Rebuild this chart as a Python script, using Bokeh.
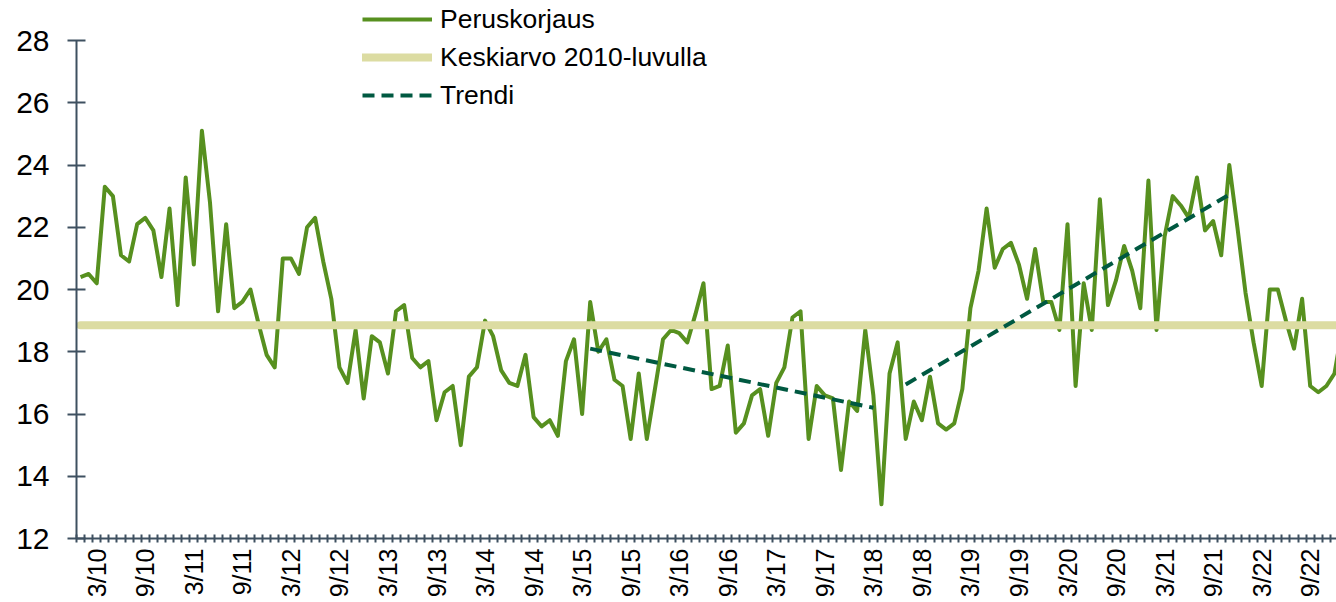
import math
from bokeh.plotting import figure
from bokeh.models import Range1d, FixedTicker, Legend, LegendItem
from bokeh.embed import file_html
from bokeh.resources import INLINE

# Monthly values, Jan 2010 ... Jan 2023 (last point clipped at right edge)
peruskorjaus = [
    20.4, 20.5, 20.2, 23.3, 23.0, 21.1, 20.9, 22.1, 22.3, 21.9, 20.4, 22.6,   # 2010
    19.5, 23.6, 20.8, 25.1, 22.8, 19.3, 22.1, 19.4, 19.6, 20.0, 18.9, 17.9,   # 2011
    17.5, 21.0, 21.0, 20.5, 22.0, 22.3, 20.9, 19.7, 17.5, 17.0, 18.7, 16.5,   # 2012
    18.5, 18.3, 17.3, 19.3, 19.5, 17.8, 17.5, 17.7, 15.8, 16.7, 16.9, 15.0,   # 2013
    17.2, 17.5, 19.0, 18.5, 17.4, 17.0, 16.9, 17.9, 15.9, 15.6, 15.8, 15.3,   # 2014
    17.7, 18.4, 16.0, 19.6, 18.0, 18.4, 17.1, 16.9, 15.2, 17.3, 15.2, 16.8,   # 2015
    18.4, 18.7, 18.6, 18.3, 19.2, 20.2, 16.8, 16.9, 18.2, 15.4, 15.7, 16.6,   # 2016
    16.8, 15.3, 17.0, 17.5, 19.1, 19.3, 15.2, 16.9, 16.6, 16.5, 14.2, 16.4,   # 2017
    16.1, 18.7, 16.6, 13.1, 17.3, 18.3, 15.2, 16.4, 15.8, 17.2, 15.7, 15.5,   # 2018
    15.7, 16.8, 19.4, 20.6, 22.6, 20.7, 21.3, 21.5, 20.8, 19.7, 21.3, 19.6,   # 2019
    19.6, 18.7, 22.1, 16.9, 20.2, 18.7, 22.9, 19.5, 20.3, 21.4, 20.6, 19.4,   # 2020
    23.5, 18.7, 21.7, 23.0, 22.7, 22.3, 23.6, 21.9, 22.2, 21.1, 24.0, 22.0,   # 2021
    19.9, 18.3, 16.9, 20.0, 20.0, 19.0, 18.1, 19.7, 16.9, 16.7, 16.9, 17.3,   # 2022
    18.8,                                                                      # 2023
]
keskiarvo_2010_luvulla = 18.85
trendi_1_kk = [63, 98]
trendi_1 = [18.1, 16.2]
trendi_2_kk = [102, 142]
trendi_2 = [16.95, 23.05]
tick_labels = ["3/10", "9/10", "3/11", "9/11", "3/12", "9/12", "3/13", "9/13",
               "3/14", "9/14", "3/15", "9/15", "3/16", "9/16", "3/17", "9/17",
               "3/18", "9/18", "3/19", "9/19", "3/20", "9/20", "3/21", "9/21",
               "3/22", "9/22"]
y_ticks = [12, 14, 16, 18, 20, 22, 24, 26, 28]

n = len(peruskorjaus)
kk = list(range(n))


def label_index(lbl):
    m, y = lbl.split("/")
    return (int(y) - 10) * 12 + int(m) - 1


label_pos = [label_index(l) for l in tick_labels]

FONT = "Liberation Sans"
AXIS_COL = "#3E5060"

# frame spans the full top of the page (legend sits above the 28 tick);
# the axis itself is bounded to 12..28
Y_MIN, Y_MAX = y_ticks[0], y_ticks[-1]
PX_PER_UNIT = 498 / (Y_MAX - Y_MIN)
TOP_PAD_PX = 40

p = figure(width=1336, height=602, output_backend="svg", toolbar_location=None,
           x_range=Range1d(-0.5, 155.25),
           y_range=Range1d(Y_MIN, Y_MAX + TOP_PAD_PX / PX_PER_UNIT),
           min_border_left=76, min_border_right=0, min_border_top=0,
           min_border_bottom=64)
p.outline_line_color = None
p.grid.visible = False
p.background_fill_color = "white"

r1 = p.line(kk, peruskorjaus, line_color="#57901F", line_width=4, line_join="round")
r2 = p.line(kk, [keskiarvo_2010_luvulla] * n, line_color="#DCDCA2", line_width=8,
            line_cap="round")
r3a = p.line(trendi_1_kk, trendi_1, line_color="#005941", line_width=4, line_dash="12 7")
r3b = p.line(trendi_2_kk, trendi_2, line_color="#005941", line_width=4, line_dash="12 7")

# y axis
ya = p.yaxis[0]
ya.bounds = (Y_MIN, Y_MAX)
ya.ticker = FixedTicker(ticks=y_ticks)
ya.axis_line_color = AXIS_COL
ya.axis_line_width = 2
ya.major_tick_line_color = AXIS_COL
ya.major_tick_line_width = 2
ya.major_tick_in = 9
ya.major_tick_out = 9
ya.minor_tick_line_color = None
ya.major_label_text_font = FONT
ya.major_label_text_font_size = "30px"
ya.major_label_text_color = "black"
ya.major_label_standoff = 18

# x axis
xa = p.xaxis[0]
xa.ticker = FixedTicker(ticks=label_pos, minor_ticks=[i - 0.5 for i in range(n + 1)])
xa.major_label_overrides = {pos: lbl for pos, lbl in zip(label_pos, tick_labels)}
xa.axis_line_color = AXIS_COL
xa.axis_line_width = 2
xa.major_tick_line_color = None
xa.major_tick_in = 0
xa.major_tick_out = 0
xa.minor_tick_line_color = AXIS_COL
xa.minor_tick_line_width = 2
xa.minor_tick_in = 4
xa.minor_tick_out = 4
xa.major_label_orientation = math.pi / 2
xa.major_label_text_font = FONT
xa.major_label_text_font_size = "25px"
xa.major_label_text_color = "black"
xa.major_label_standoff = 6

legend = Legend(items=[
    LegendItem(label="Peruskorjaus", renderers=[r1]),
    LegendItem(label="Keskiarvo 2010-luvulla", renderers=[r2]),
    LegendItem(label="Trendi", renderers=[r3a]),
], location=(286, 424))
legend.margin = 0
legend.padding = 0
legend.spacing = 0
legend.glyph_width = 70
legend.glyph_height = 38
legend.label_height = 38
legend.label_standoff = 8
legend.label_text_font = FONT
legend.label_text_font_size = "26.5px"
legend.label_text_color = "black"
legend.background_fill_alpha = 0
legend.border_line_color = None
p.add_layout(legend)

open("out.html", "w").write(file_html(p, INLINE))
